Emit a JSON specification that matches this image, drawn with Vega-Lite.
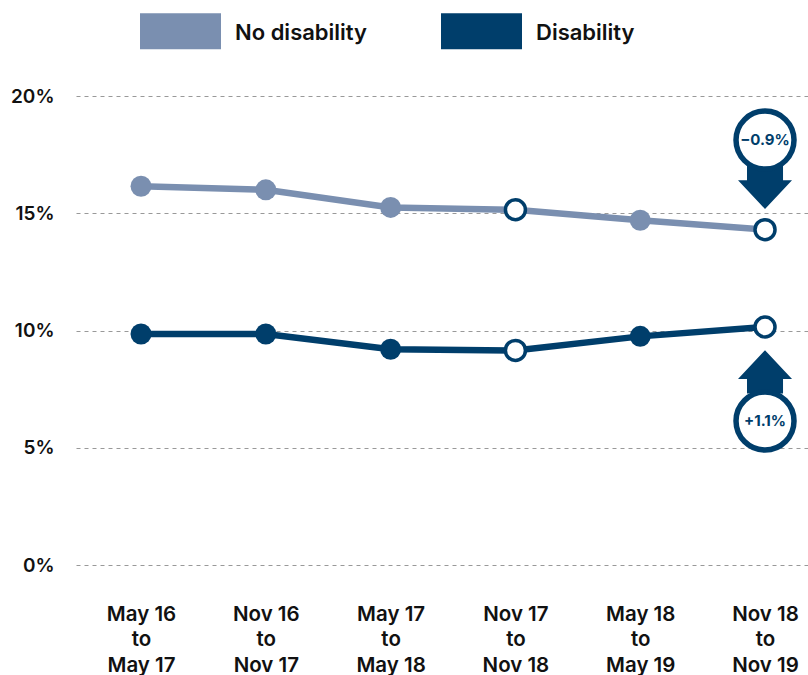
{
 "$schema":"https://vega.github.io/schema/vega-lite/v6.json",
 "width":732,"height":469,
 "autosize":{"type":"none"},
 "padding":{"left":76,"top":96,"right":0,"bottom":110},
 "background":"white",
 "config":{"view":{"stroke":null},"font":"Inter"},
 "datasets":{
  "rates":[
   {"period":"May 16 to May 17","group":"No disability","rate":16.15,"marker":"solid"},
   {"period":"Nov 16 to Nov 17","group":"No disability","rate":16.0,"marker":"solid"},
   {"period":"May 17 to May 18","group":"No disability","rate":15.25,"marker":"solid"},
   {"period":"Nov 17 to Nov 18","group":"No disability","rate":15.15,"marker":"open"},
   {"period":"May 18 to May 19","group":"No disability","rate":14.7,"marker":"solid"},
   {"period":"Nov 18 to Nov 19","group":"No disability","rate":14.3,"marker":"open"},
   {"period":"May 16 to May 17","group":"Disability","rate":9.85,"marker":"solid"},
   {"period":"Nov 16 to Nov 17","group":"Disability","rate":9.85,"marker":"solid"},
   {"period":"May 17 to May 18","group":"Disability","rate":9.2,"marker":"solid"},
   {"period":"Nov 17 to Nov 18","group":"Disability","rate":9.15,"marker":"open"},
   {"period":"May 18 to May 19","group":"Disability","rate":9.75,"marker":"solid"},
   {"period":"Nov 18 to Nov 19","group":"Disability","rate":10.15,"marker":"open"}
  ],
  "down":[{"period":"Nov 18 to Nov 19","circle":18.12,"arrow":16.11,"label":"−0.9%"}],
  "up":[{"period":"Nov 18 to Nov 19","circle":6.14,"arrow":8.23,"label":"+1.1%"}]
 },
 "encoding":{
  "x":{"field":"period","type":"nominal","sort":null,"title":null,
   "scale":{"type":"point","padding":0.4327,"align":0.602},
   "axis":{"domain":false,"ticks":false,"grid":false,"labelAngle":0,"labelPadding":39,"labelFontSize":20.5,"labelFontWeight":600,"labelColor":"#111111","labelLineHeight":25.5,"labelAlign":"center","labelBaseline":"top","labelOverlap":false,
    "labelExpr":"[slice(datum.value,0,6),'to',slice(datum.value,10)]"}}
 },
 "layer":[
  {"data":{"name":"rates"},"mark":{"type":"line","strokeWidth":6.5},
   "encoding":{
    "y":{"field":"rate","type":"quantitative","title":null,
     "scale":{"domain":[0,20],"nice":false},
     "axis":{"values":[0,5,10,15,20],"domain":false,"ticks":false,"grid":true,"gridColor":"#999999","gridDash":[4,4],"gridWidth":1,"labelPadding":22,"labelFontSize":19,"labelFontWeight":600,"labelColor":"#111111","labelExpr":"datum.value+'%'"}},
    "color":{"field":"group","type":"nominal","scale":{"domain":["No disability","Disability"],"range":["#7a8fb0","#003e6b"]},
     "legend":{"title":null,"orient":"none","legendX":64,"legendY":-105.5,"direction":"horizontal","columns":2,"padding":0,"symbolType":"M-1,-0.444H1V0.444H-1Z","symbolSize":6561,"symbolOpacity":1,"symbolStrokeWidth":0,"labelOffset":14,"labelFontSize":22,"labelFontWeight":600,"labelColor":"#111111","columnPadding":73,"labelLimit":300,
      "encode":{"symbols":{"update":{"fill":{"scale":"color","field":"value"},"strokeWidth":{"value":0}}},"labels":{"update":{"dy":{"value":2}}}}}}}},
  {"data":{"name":"rates"},"transform":[{"filter":"datum.marker==='solid'"}],
   "mark":{"type":"point","shape":"circle","filled":true,"opacity":1,"size":440},
   "encoding":{
    "y":{"field":"rate","type":"quantitative"},
    "color":{"field":"group","type":"nominal"}}},
  {"data":{"name":"rates"},"transform":[{"filter":"datum.marker==='open'"}],
   "mark":{"type":"point","shape":"circle","filled":false,"fill":"white","fillOpacity":1,"opacity":1,"stroke":"#003e6b","strokeWidth":3.5,"size":400},
   "encoding":{"y":{"field":"rate","type":"quantitative"}}},
  {"data":{"name":"down"},"mark":{"type":"point","shape":"M-0.667,-0.8H0.667V-0.26H1L0,0.81L-1,-0.26H-0.667Z","filled":true,"fill":"#003e6b","opacity":1,"size":2916,"strokeWidth":0},
   "encoding":{"y":{"field":"arrow","type":"quantitative"}}},
  {"data":{"name":"up"},"mark":{"type":"point","shape":"M-0.667,0.8H0.667V0.26H1L0,-0.81L-1,0.26H-0.667Z","filled":true,"fill":"#003e6b","opacity":1,"size":2916,"strokeWidth":0},
   "encoding":{"y":{"field":"arrow","type":"quantitative"}}},
  {"data":{"name":"down"},"mark":{"type":"point","shape":"circle","filled":false,"fill":"white","fillOpacity":1,"opacity":1,"stroke":"#003e6b","strokeWidth":5.5,"size":3364},
   "encoding":{"y":{"field":"circle","type":"quantitative"}}},
  {"data":{"name":"up"},"mark":{"type":"point","shape":"circle","filled":false,"fill":"white","fillOpacity":1,"opacity":1,"stroke":"#003e6b","strokeWidth":5.5,"size":3364},
   "encoding":{"y":{"field":"circle","type":"quantitative"}}},
  {"data":{"name":"down"},"mark":{"type":"text","fontSize":15,"fontWeight":700,"color":"#003e6b"},
   "encoding":{"y":{"field":"circle","type":"quantitative"},"text":{"field":"label"}}},
  {"data":{"name":"up"},"mark":{"type":"text","fontSize":15,"fontWeight":700,"color":"#003e6b"},
   "encoding":{"y":{"field":"circle","type":"quantitative"},"text":{"field":"label"}}}
 ]
}
